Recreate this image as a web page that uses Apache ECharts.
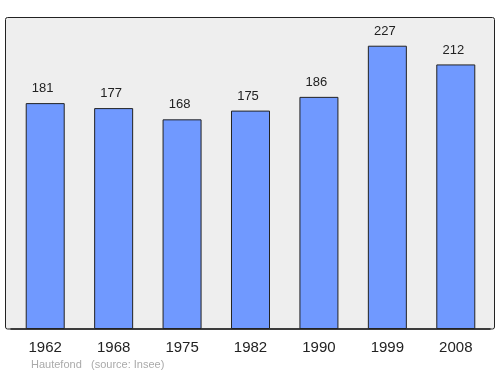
<!DOCTYPE html>
<html><head><meta charset="utf-8">
<script src="https://cdn.jsdelivr.net/npm/echarts@6/dist/echarts.min.js"></script>
<style>html,body{margin:0;padding:0;background:#fff}#c{width:500px;height:374px}</style>
</head><body><div id="c"></div>
<script>
var years = ['1962','1968','1975','1982','1990','1999','2008'];
var population = [181,177,168,175,186,227,212];
var commune = 'Hautefond';
var source = '(source: Insee)';

var chart = echarts.init(document.getElementById('c'), null, {renderer:'canvas'});
chart.setOption({
  backgroundColor:'#ffffff',
  animation:false,
  graphic:[
    {type:'rect', z:-10, shape:{x:5.5,y:17.5,width:489,height:311.5,r:2}, style:{fill:'#eeeeee',stroke:'#222',lineWidth:1}},
    {type:'text', left:31, top:359, style:{text:commune, fill:'#aaaaaa', font:'11px "Liberation Sans", Arial, sans-serif'}},
    {type:'text', left:91, top:359, style:{text:source, fill:'#aaaaaa', font:'11px "Liberation Sans", Arial, sans-serif'}}
  ],
  grid:{left:11, right:10, top:17, bottom:45, containLabel:false},
  xAxis:{type:'category', data:years,
    axisLine:{show:true, lineStyle:{color:'#222', width:1.5}},
    axisTick:{show:false},
    axisLabel:{color:'#222', fontSize:15, margin:11, fontFamily:'"Liberation Sans", Arial, sans-serif'}},
  yAxis:{type:'value', min:0, max:250, show:false, splitLine:{show:false}},
  series:[{type:'bar', data:population, barWidth:'57%',
    itemStyle:{color:'#7099ff', borderColor:'#222', borderWidth:1},
    label:{show:true, position:'top', distance:8, offset:[-2.5,0], color:'#222', fontSize:13, fontFamily:'"Liberation Sans", Arial, sans-serif'}}]
});
</script></body></html>
